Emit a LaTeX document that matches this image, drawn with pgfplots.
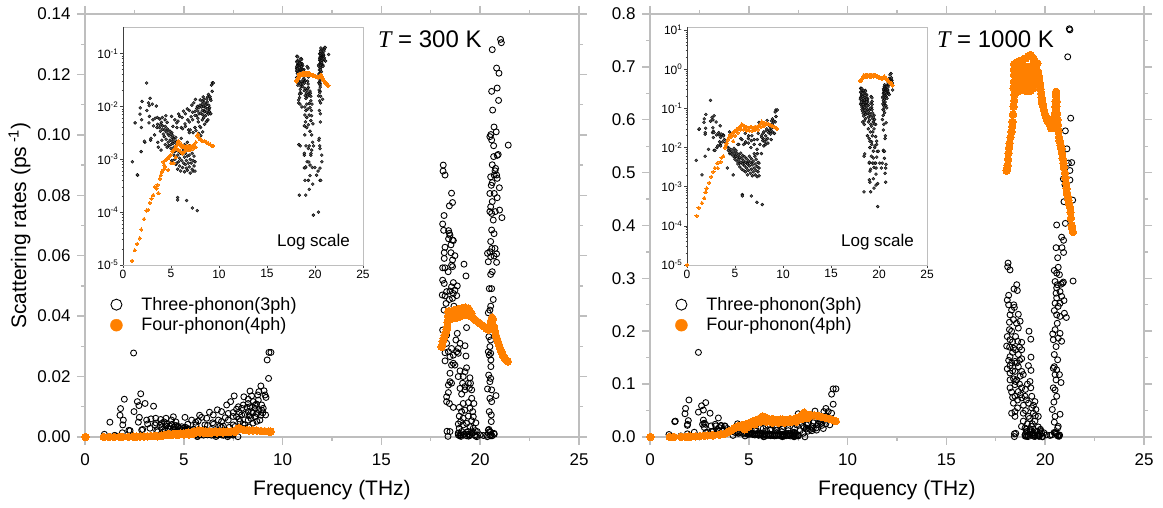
\documentclass[border=0pt]{standalone}
\usepackage{pgfplots}
\usepackage{pgfplotstable}
\usepackage{fontspec}
\pgfplotsset{compat=1.18}
\setmainfont{Liberation Sans}
\newfontfamily\tfont{Liberation Serif}
\definecolor{spine}{RGB}{190,190,190}
\definecolor{ora}{RGB}{255,128,0}
\pgfplotstableread[row sep=\\]{x y\\
21.03 .1316\\21.07 .1305\\20.61 .1282\\20.83 .1221\\20.95 .1204\\20.86 .1155\\20.58 .1144\\20.93 .1114\\20.63 .1082\\20.70 .1026\\20.81 .1010\\20.54 .1001\\20.49 .0994\\20.58 .0983\\20.68 .0964\\21.42 .0966\\20.91 .0935\\20.86 .0932\\20.68 .0928\\20.61 .0901\\20.78 .0889\\20.75 .0881\\20.83 .0867\\20.71 .0867\\20.53 .0861\\20.86 .0856\\20.61 .0842\\20.56 .0833\\20.97 .0825\\20.49 .0806\\20.71 .0806\\20.86 .0792\\20.61 .0779\\20.53 .0762\\20.98 .0751\\20.76 .0746\\20.49 .0746\\20.58 .0740\\21.10 .0726\\20.66 .0718\\20.58 .0685\\20.70 .0673\\20.53 .0647\\20.59 .0624\\20.75 .0624\\20.49 .0613\\20.37 .0608\\20.83 .0606\\20.70 .0599\\20.53 .0597\\20.41 .0580\\20.83 .0578\\20.61 .0547\\20.53 .0538\\20.46 .0491\\20.58 .0491\\20.66 .0455\\20.53 .0433\\20.49 .0420\\20.41 .0411\\20.49 .0360\\20.44 .0332\\20.53 .0321\\20.49 .0299\\20.41 .0282\\20.53 .0277\\20.46 .0271\\20.54 .0255\\20.54 .0233\\20.43 .0205\\20.53 .0194\\20.49 .0183\\20.37 .0159\\20.58 .0156\\20.80 .0137\\20.49 .0128\\20.58 .0117\\20.46 .0084\\20.56 .0073\\20.56 .0051\\20.41 .0023\\20.49 .0018\\20.71 .0009\\20.53 .0004\\20.36 .0001\\
18.13 .0900\\18.12 .0880\\18.22 .0867\\18.55 .0807\\18.60 .0776\\18.44 .0765\\18.17 .0733\\18.10 .0705\\18.15 .0684\\18.40 .0683\\18.44 .0674\\18.47 .0668\\18.40 .0656\\18.60 .0652\\18.64 .0650\\18.52 .0636\\18.22 .0628\\18.18 .0610\\18.52 .0610\\18.72 .0600\\18.18 .0591\\18.60 .0586\\18.55 .0569\\18.22 .0560\\18.10 .0560\\18.60 .0564\\19.18 .0572\\19.28 .0533\\18.38 .0547\\18.10 .0519\\18.18 .0508\\18.64 .0511\\18.55 .0497\\18.84 .0500\\18.30 .0481\\18.47 .0483\\18.72 .0486\\18.64 .0475\\18.08 .0470\\18.22 .0467\\18.81 .0468\\18.44 .0455\\18.60 .0459\\18.27 .0442\\18.67 .0433\\18.17 .0420\\18.10 .0354\\
19.31 .0362\\18.84 .0343\\18.30 .0337\\18.77 .0321\\18.98 .0310\\18.30 .0310\\19.23 .0302\\18.89 .0293\\18.55 .0293\\18.39 .0282\\18.81 .0282\\18.22 .0279\\18.64 .0271\\18.89 .0277\\18.47 .0266\\19.28 .0268\\18.22 .0252\\18.64 .0244\\18.55 .0238\\18.72 .0238\\18.47 .0211\\19.31 .0229\\18.98 .0219\\19.23 .0216\\18.89 .0200\\19.14 .0200\\19.48 .0196\\18.47 .0183\\18.55 .0178\\18.39 .0172\\19.11 .0178\\19.40 .0178\\19.51 .0178\\19.23 .0167\\19.45 .0161\\18.98 .0161\\19.23 .0156\\18.39 .0147\\19.57 .0156\\19.06 .0142\\18.30 .0133\\18.30 .0117\\19.57 .0128\\18.44 .0111\\19.40 .0114\\19.14 .0111\\19.68 .0111\\18.64 .0098\\18.94 .0098\\19.48 .0095\\19.23 .0089\\19.06 .0084\\19.62 .0084\\18.94 .0069\\19.40 .0069\\19.65 .0067\\19.14 .0062\\19.01 .0051\\19.57 .0054\\19.31 .0045\\19.78 .0047\\18.89 .0043\\19.14 .0040\\19.48 .0034\\18.94 .0029\\19.65 .0029\\18.47 .0018\\19.85 .0018\\19.06 .0018\\19.40 .0018\\18.89 .0012\\19.18 .0009\\19.57 .0012\\19.01 .0007\\19.73 .0007\\19.99 .0007\\20.16 .0005\\20.32 .0006\\
19.83 .000088\\18.37 .00021\\19.03 .00021\\19.41 .00027\\19.76 .00034\\18.96 .00040\\19.31 .00040\\20.60 .00040\\19.48 .00049\\18.89 .00069\\19.03 .00072\\19.48 .00078\\20.52 .00068\\19.37 .00089\\20.70 .0012\\18.89 .0013\\19.58 .0013\\20.52 .0016\\19.31 .0016\\19.66 .0015\\18.32 .0019\\19.75 .0021\\20.44 .0025\\
2.46 .0278\\9.31 .0280\\9.41 .0280\\9.22 .0255\\9.29 .0194\\8.90 .0169\\8.35 .0152\\9.06 .0153\\8.80 .0150\\8.74 .0139\\2.82 .0143\\7.55 .0136\\8.04 .0133\\9.11 .0139\\9.16 .0131\\8.43 .0136\\1.99 .0125\\2.65 .0117\\3.04 .0111\\2.73 .0104\\3.47 .0102\\7.37 .0117\\7.17 .0106\\8.26 .0125\\8.77 .0122\\8.52 .0117\\8.26 .0111\\8.68 .0109\\8.94 .0106\\8.01 .0106\\7.76 .0100\\8.35 .0100\\8.60 .0095\\9.02 .0095\\7.67 .0092\\7.93 .0095\\1.80 .0094\\2.48 .0084\\1.77 .0072\\2.75 .0065\\1.94 .0056\\2.70 .0049\\1.26 .0049\\1.91 .0040\\2.28 .0021\\1.89 .0014\\1.52 .0005\\.98 .0009\\1.49 .00051\\
3.12 .0056\\3.34 .0060\\3.58 .0062\\3.83 .0058\\3.17 .0043\\3.54 .0040\\3.88 .0045\\3.29 .0029\\2.87 .0023\\3.63 .0021\\4.13 .0043\\4.38 .0056\\4.47 .0067\\4.30 .0036\\4.69 .0036\\5.06 .0065\\5.09 .0032\\5.73 .0053\\5.62 .0040\\6.16 .0062\\6.07 .0040\\6.49 .0073\\6.46 .0047\\6.91 .0084\\6.75 .0056\\6.91 .0051\\6.83 .0036\\7.25 .0078\\7.50 .0081\\7.25 .0056\\7.67 .0067\\7.93 .0073\\7.84 .0051\\8.26 .0056\\8.09 .0040\\8.43 .0084\\8.60 .0067\\8.85 .0056\\9.14 .0073\\8.26 .0084\\8.94 .0089\\7.50 .0040\\6.91 .0032\\6.07 .0025\\4.05 .0023\\4.72 .0018\\5.23 .0025\\
2.22 .0022\\2.92 .0025\\3.68 .0017\\3.96 .0015\\5.69 .00019\\5.69 .00017\\6.63 .000166\\7.22 .00012\\7.74 .000107\\
3.6 .0046\\3.8 .0040\\3.9 .0034\\4.0 .0050\\4.1 .0037\\4.2 .0030\\4.3 .0027\\4.4 .0042\\4.5 .0033\\4.5 .0024\\4.6 .0038\\4.7 .0030\\4.7 .0021\\4.8 .0028\\4.9 .0034\\4.9 .0023\\5.0 .0030\\5.0 .0019\\5.1 .0026\\5.1 .0022\\5.2 .0020\\5.2 .0028\\5.3 .0017\\5.3 .0024\\5.4 .0021\\5.5 .0018\\5.5 .0026\\5.6 .0015\\5.6 .0022\\5.7 .0019\\5.4 .0014\\5.0 .0016\\4.8 .0018\\4.6 .0017\\4.4 .0019\\
5.1 .00095\\5.3 .0012\\5.4 .0010\\5.5 .0008\\5.6 .00085\\5.7 .0012\\5.7 .00065\\5.8 .0014\\5.8 .0009\\5.9 .00105\\5.9 .00075\\6.0 .0013\\6.0 .0006\\6.1 .00095\\6.1 .0017\\6.2 .00125\\6.2 .0007\\6.3 .00085\\6.3 .0015\\6.4 .0011\\6.4 .00058\\6.5 .0013\\6.5 .0008\\6.6 .00095\\6.6 .00068\\6.7 .00115\\6.7 .00062\\6.8 .0015\\6.8 .00085\\6.9 .0012\\6.9 .00072\\7.0 .001\\7.0 .00055\\7.1 .00085\\7.2 .0013\\7.2 .00065\\7.3 .00095\\7.3 .0006\\7.4 .00115\\7.4 .00075\\7.5 .0009\\7.5 .0006\\6.4 .0019\\6.7 .0021\\6.9 .0018\\7.2 .0017\\
5.6 .0049\\5.9 .0065\\6.2 .0038\\6.5 .0042\\7.0 .0036\\7.3 .0032\\7.6 .0035\\7.9 .0031\\8.0 .0042\\8.1 .0028\\8.3 .0033\\8.5 .0046\\8.7 .0052\\8.4 .0061\\7.8 .0060\\
4.1 .0062\\4.6 .0050\\5.2 .0042\\5.4 .0056\\5.8 .0072\\6.3 .0082\\6.7 .0090\\7.1 .0064\\7.5 .0068\\7.8 .0082\\8.1 .0075\\8.2 .0098\\8.3 .0070\\8.5 .0080\\8.6 .0105\\8.7 .0078\\8.8 .0090\\8.9 .0072\\9.0 .0080\\
}\tA
\pgfplotstableread[row sep=\\]{x y\\
0.02 .000001\\0.95 .000012\\1.23 .000019\\1.47 .000025\\1.75 .000032\\1.9 .000047\\2.2 .000074\\2.45 .000107\\2.62 .00011\\2.8 .00015\\2.98 .00018\\3.15 .00021\\3.32 .00030\\3.5 .00028\\3.68 .00023\\3.6 .00033\\3.85 .00043\\3.95 .00050\\4.05 .00058\\4.2 .00063\\4.2 .0009\\4.3 .00078\\4.4 .00072\\4.45 .00098\\4.55 .0010\\4.7 .00063\\4.7 .00105\\4.85 .00115\\5.0 .0012\\5.0 .00085\\5.15 .0014\\5.25 .00085\\5.25 .0015\\5.4 .0016\\5.5 .0011\\5.55 .0018\\5.7 .0021\\5.8 .0022\\5.9 .0020\\6.0 .0018\\6.1 .0019\\6.2 .0017\\6.3 .0018\\6.5 .0016\\6.6 .0018\\6.8 .0018\\6.9 .0016\\7.0 .0018\\7.2 .0018\\7.4 .0019\\7.6 .0021\\7.75 .0028\\7.8 .0030\\7.85 .0026\\8.0 .0024\\8.2 .0023\\8.3 .0022\\8.5 .0022\\8.7 .0021\\8.9 .0020\\9.1 .0019\\9.3 .0018\\9.4 .0018\\
5.6 .0016\\5.8 .0015\\6.0 .0014\\6.2 .0013\\6.4 .0014\\6.7 .0015\\7.0 .0015\\7.3 .0016\\7.6 .0017\\
18.05 .0298\\18.08 .0305\\18.1 .0315\\18.15 .0325\\18.2 .0335\\18.25 .0345\\18.3 .0355\\18.33 .0365\\18.35 .0380\\18.37 .0400\\18.38 .0415\\18.45 .0415\\18.5 .0390\\18.55 .0415\\18.6 .0395\\18.65 .0418\\18.7 .0395\\18.75 .042\\18.8 .0395\\18.85 .0422\\18.9 .0397\\18.95 .0423\\19.0 .0400\\19.05 .0425\\19.1 .0402\\19.15 .0427\\19.2 .0405\\19.25 .0428\\19.3 .0425\\19.35 .0405\\19.4 .0425\\19.45 .0420\\19.5 .0400\\19.55 .0410\\19.6 .0398\\19.7 .0390\\19.8 .0385\\19.9 .0380\\20.0 .0375\\20.1 .0370\\20.2 .0365\\20.3 .0360\\20.4 .0355\\20.45 .0360\\20.5 .0370\\20.55 .0385\\20.6 .0395\\20.65 .0390\\20.7 .0365\\20.75 .0350\\20.8 .0335\\20.85 .0325\\20.9 .0315\\20.95 .0305\\21.0 .0295\\21.05 .0285\\21.1 .0280\\21.15 .0270\\21.2 .0265\\21.25 .0260\\21.3 .0255\\21.35 .0252\\21.4 .0250\\
}\tB
\pgfplotstableread[row sep=\\]{x y\\
21.22 .772\\21.25 .770\\21.14 .719\\21.29 .603\\21.02 .579\\21.10 .545\\21.34 .519\\21.17 .518\\21.25 .504\\20.92 .488\\21.25 .486\\21.0 .477\\21.39 .448\\20.95 .445\\21.09 .464\\20.58 .401\\21.02 .404\\20.83 .378\\20.93 .372\\20.55 .358\\20.85 .358\\20.93 .349\\20.63 .339\\21.41 .295\\20.66 .321\\20.46 .315\\20.58 .310\\20.72 .307\\20.92 .293\\20.80 .289\\20.50 .294\\20.61 .288\\20.58 .282\\20.88 .291\\20.55 .272\\20.75 .275\\20.83 .266\\20.95 .258\\20.58 .263\\20.50 .253\\20.75 .253\\20.66 .247\\20.46 .239\\20.97 .234\\20.58 .231\\21.07 .226\\20.75 .228\\20.61 .215\\20.50 .203\\20.75 .196\\20.38 .195\\20.66 .187\\20.83 .181\\20.41 .184\\20.55 .171\\20.46 .156\\20.63 .146\\20.46 .133\\20.58 .127\\20.41 .130\\20.50 .118\\20.72 .118\\20.80 .103\\20.41 .093\\20.55 .108\\20.50 .089\\20.58 .077\\20.44 .066\\20.36 .052\\20.75 .043\\20.50 .039\\20.46 .028\\20.66 .020\\20.50 .008\\20.70 .003\\20.33 .004\\
18.12 .329\\18.10 .322\\18.22 .316\\18.56 .288\\18.42 .280\\18.59 .277\\18.15 .268\\18.08 .259\\18.15 .250\\18.41 .250\\18.44 .245\\18.64 .232\\18.22 .231\\18.39 .222\\18.73 .219\\18.19 .217\\18.19 .203\\18.64 .206\\18.08 .190\\19.18 .200\\19.27 .185\\18.61 .181\\18.81 .179\\18.22 .184\\18.39 .168\\18.05 .172\\18.81 .165\\18.22 .152\\18.64 .156\\19.28 .151\\18.81 .148\\18.08 .129\\18.22 .135\\18.47 .143\\18.64 .133\\19.15 .135\\19.28 .126\\18.22 .121\\18.47 .124\\18.81 .124\\18.89 .118\\18.22 .108\\18.56 .108\\18.73 .115\\19.23 .105\\18.22 .093\\18.47 .099\\19.27 .093\\18.81 .093\\18.64 .086\\18.47 .077\\18.98 .077\\18.81 .074\\19.32 .077\\18.39 .064\\19.15 .064\\19.48 .067\\18.30 .045\\18.47 .048\\18.89 .045\\19.53 .052\\19.32 .055\\19.65 .039\\19.15 .039\\18.47 .039\\18.89 .030\\19.48 .030\\18.98 .017\\19.65 .019\\19.23 .014\\19.82 .008\\18.44 .006\\18.98 .004\\19.32 .004\\19.48 .004\\19.65 .004\\20.07 .004\\20.24 .003\\
18.3 .200\\18.5 .190\\18.35 .160\\18.55 .140\\18.4 .110\\18.7 .100\\18.6 .070\\18.9 .060\\19.0 .050\\19.1 .025\\19.3 .020\\19.4 .045\\18.8 .020\\18.7 .170\\18.3 .085\\18.6 .055\\18.2 .170\\18.3 .140\\18.35 .125\\18.5 .165\\18.3 .240\\18.55 .215\\18.15 .145\\18.7 .145\\18.35 .180\\18.5 .105\\18.75 .080\\18.35 .075\\19.0 .090\\19.1 .100\\19.05 .070\\19.4 .060\\19.2 .035\\19.5 .040\\19.35 .025\\19.05 .010\\19.75 .012\\19.55 .010\\19.2 .006\\
19.86 .00031\\18.44 .00074\\19.13 .00074\\19.48 .00092\\19.86 .0012\\19.69 .0011\\20.70 .0013\\19.06 .0013\\19.41 .0016\\18.99 .0015\\19.69 .0021\\19.06 .0025\\19.48 .0031\\20.63 .0022\\19.13 .0028\\19.69 .0030\\20.73 .0037\\18.99 .0042\\19.41 .0054\\19.76 .0057\\20.56 .0053\\18.51 .0069\\19.93 .0080\\20.45 .0085\\20.56 .0080\\19.06 .010\\19.41 .0081\\19.58 .011\\19.24 .012\\19.76 .0145\\19.06 .0145\\20.63 .017\\
2.45 .160\\1.97 .070\\1.80 .054\\1.77 .044\\2.82 .065\\2.61 .059\\2.70 .051\\2.45 .047\\3.04 .045\\3.46 .036\\1.94 .031\\1.25 .029\\2.70 .032\\1.89 .022\\2.66 .024\\3.09 .021\\3.34 .021\\3.59 .021\\3.79 .021\\2.75 .018\\2.24 .009\\1.89 .006\\.96 .0047\\1.56 .002\\2.83 .0085\\3.12 .010\\3.46 .012\\
9.27 .091\\9.41 .091\\9.19 .081\\9.27 .062\\8.90 .054\\8.35 .049\\9.02 .048\\8.80 .048\\9.19 .045\\7.50 .044\\4.43 .025\\4.46 .007\\
4.81 .002\\5.06 .006\\5.48 .004\\5.82 .004\\6.07 .013\\6.41 .013\\6.32 .004\\6.66 .010\\6.75 .004\\7.0 .016\\7.33 .016\\7.08 .006\\7.50 .004\\7.75 .007\\7.92 .023\\8.26 .027\\8.43 .013\\8.77 .016\\9.10 .023\\7.92 .017\\7.33 .007\\7.75 .020\\8.26 .016\\8.68 .026\\7.42 .023\\6.75 .020\\6.41 .020\\6.07 .023\\5.73 .016\\5.39 .012\\
4.2 .003\\5.76 .00063\\5.76 .00058\\6.7 .00058\\7.29 .0004\\7.84 .00035\\
4.2 .0105\\4.3 .0085\\4.4 .0095\\4.5 .0075\\4.6 .0088\\4.7 .0065\\4.8 .0078\\4.9 .0058\\4.9 .0095\\5.0 .0070\\5.0 .0050\\5.1 .0085\\5.1 .0060\\5.2 .0045\\5.2 .0072\\5.3 .0055\\5.3 .0038\\5.4 .0065\\5.4 .0048\\5.5 .0032\\5.5 .0056\\5.6 .0042\\5.6 .0072\\5.7 .0052\\5.7 .0028\\5.8 .0038\\5.8 .0062\\5.9 .0046\\5.9 .0026\\6.0 .0034\\6.0 .0058\\6.1 .0042\\6.1 .0024\\6.2 .0052\\6.2 .0030\\6.3 .0038\\6.3 .0020\\6.4 .0046\\6.4 .0026\\6.5 .0034\\6.5 .0060\\6.6 .0022\\6.6 .0042\\6.7 .0028\\6.7 .0052\\6.8 .0036\\6.8 .0019\\6.9 .0024\\6.9 .0045\\7.0 .0030\\7.0 .0070\\7.1 .0038\\7.1 .0020\\7.2 .0026\\7.2 .0050\\7.3 .0033\\7.3 .0018\\7.4 .0024\\7.4 .0042\\7.5 .0030\\7.5 .0019\\
7.6 .012\\7.8 .018\\8.0 .025\\8.1 .014\\8.2 .020\\8.3 .030\\8.4 .017\\8.5 .024\\8.6 .028\\8.6 .035\\8.7 .022\\8.8 .031\\8.9 .040\\8.9 .025\\8.0 .011\\7.9 .015\\8.2 .012\\7.3 .009\\7.0 .012\\6.7 .015\\6.4 .017\\6.1 .014\\5.9 .012\\5.6 .017\\5.3 .012\\
3.3 .024\\3.5 .018\\3.6 .022\\3.7 .014\\3.8 .020\\3.4 .014\\3.2 .011\\3.9 .016\\3.5 .011\\4.0 .013\\2.91 .0085\\1.28 .030\\1.9 .024\\2.74 .026\\2.81 .024\\
}\tC
\pgfplotstableread[row sep=\\]{x y\\
0.02 .00001\\1.0 .00018\\1.21 .00029\\1.56 .00038\\1.8 .00051\\1.94 .00072\\2.05 .00091\\2.32 .00126\\2.53 .0018\\2.74 .0024\\2.9 .0030\\3.2 .0030\\3.16 .0040\\3.5 .0043\\3.6 .0055\\3.78 .0060\\3.95 .010\\4.05 .0115\\4.13 .013\\4.25 .016\\4.35 .018\\4.5 .021\\4.6 .019\\4.7 .023\\4.8 .0145\\4.85 .024\\5.0 .020\\5.0 .026\\5.17 .029\\5.3 .024\\5.35 .031\\5.5 .034\\5.6 .036\\5.7 .039\\5.8 .038\\5.9 .036\\6.0 .034\\6.2 .034\\6.4 .032\\6.6 .033\\6.73 .033\\6.9 .032\\7.1 .034\\7.3 .034\\7.5 .037\\7.7 .042\\7.8 .046\\7.9 .043\\8.1 .042\\8.3 .041\\8.5 .040\\8.7 .038\\8.9 .036\\9.1 .034\\9.3 .031\\9.4 .030\\
5.6 .029\\5.9 .029\\6.2 .027\\6.5 .027\\6.8 .027\\7.1 .028\\7.4 .029\\7.7 .034\\8.0 .036\\
18.05 .5036\\18.07 .508\\18.1 .514\\18.12 .525\\18.15 .537\\18.17 .547\\18.2 .556\\18.25 .567\\18.3 .577\\18.33 .587\\18.35 .596\\18.37 .61\\18.4 .625\\18.43 .636\\18.45 .647\\18.4 .660\\18.42 .685\\18.42 .705\\18.42 .672\\18.42 .695\\
18.55 .655\\18.55 .670\\18.55 .685\\18.55 .700\\18.55 .708\\18.7 .655\\18.7 .670\\18.7 .685\\18.7 .700\\18.7 .711\\18.85 .660\\18.85 .675\\18.85 .690\\18.85 .705\\18.85 .713\\19.0 .655\\19.0 .670\\19.0 .685\\19.0 .700\\19.0 .716\\19.15 .655\\19.15 .670\\19.15 .685\\19.15 .700\\19.15 .720\\19.25 .655\\19.25 .670\\19.25 .685\\19.25 .700\\19.25 .7225\\19.4 .660\\19.4 .675\\19.4 .690\\19.4 .705\\19.4 .716\\19.55 .672\\19.55 .687\\19.55 .702\\19.6 .707\\
19.65 .690\\19.68 .682\\19.7 .675\\19.72 .67\\19.75 .666\\19.77 .658\\19.8 .650\\19.82 .642\\19.85 .635\\19.87 .63\\19.9 .625\\19.95 .617\\20.0 .610\\20.05 .605\\20.1 .600\\20.12 .598\\20.15 .596\\20.2 .593\\20.25 .590\\20.3 .584\\20.35 .587\\20.4 .592\\20.42 .596\\20.45 .600\\20.47 .606\\20.5 .612\\20.52 .625\\20.53 .635\\20.54 .645\\20.55 .653\\20.56 .645\\20.57 .625\\20.58 .635\\20.6 .612\\20.62 .60\\20.65 .590\\20.67 .578\\20.7 .567\\20.73 .56\\20.78 .552\\20.82 .545\\20.85 .537\\20.88 .527\\20.92 .518\\20.95 .51\\21.0 .499\\21.02 .49\\21.05 .480\\21.08 .47\\21.1 .461\\21.14 .455\\21.18 .448\\21.2 .442\\21.25 .435\\21.28 .425\\21.3 .414\\21.34 .40\\21.37 .395\\21.4 .388\\
}\tD
\pgfplotsset{
 mainax/.style={scale only axis,width=494pt,height=423pt,xmin=0,xmax=25,ymin=0,
  axis line style={spine,line width=2pt},
  tick style={draw=spine,line width=1.5pt},
  major tick style={draw=spine,line width=1.5pt},
  minor tick style={draw=spine,line width=1.2pt},
  tick align=outside,major tick length=8pt,minor tick length=4pt,
  xtick={0,5,10,15,20,25},xticklabels={0,5,10,15,20,25},minor x tick num=1,minor y tick num=1,
  tick label style={font=\fontsize{17}{20}\selectfont,text=black},
  label style={font=\fontsize{21}{25}\selectfont,text=black},
  xlabel={Frequency (THz)},
  xticklabel style={yshift=-5pt},
  yticklabel style={xshift=-3pt},
  xlabel style={yshift=-8pt},
  legend style={draw=none,fill=none,font=\fontsize{18}{21}\selectfont,row sep=2pt},
  legend cell align=left,
 },
 inax/.style={scale only axis,width=240pt,height=238pt,xmin=0,xmax=25,
  axis line style={spine,line width=0.8pt},
  tick style={draw=black!75,line width=0.6pt},
  tick align=outside,major tick length=3pt,minor tick length=1.5pt,
  xtick={0,5,10,15,20,25},xticklabels={0,5,10,15,20,25},xtick pos=bottom,ytick pos=left,
  tick label style={font=\fontsize{12}{14}\selectfont,text=black,inner sep=1.5pt},
 },
 threeb/.style={only marks,mark=o,mark size=3pt,mark options={draw=black,line width=0.9pt,fill=none}},
 fourb/.style={only marks,mark=*,mark size=3.7pt,mark options={draw=ora,fill=ora,line width=0pt}},
 threes/.style={only marks,mark=*,mark size=1.5pt,mark options={draw=black,fill=black!65,line width=0.4pt}},
 fours/.style={only marks,mark=*,mark size=1.7pt,mark options={draw=ora,fill=ora,line width=0pt}},
}
\begin{document}
\begin{tikzpicture}
\path[use as bounding box] (0pt,0pt) rectangle (1163pt,508pt);
% left main
\begin{axis}[mainax,at={(85pt,71pt)},anchor=south west,ymax=0.14,
  ytick={0,0.02,0.04,0.06,0.08,0.10,0.12,0.14},
  yticklabels={0.00,0.02,0.04,0.06,0.08,0.10,0.12,0.14},
  ylabel={Scattering rates (ps\,\textsuperscript{-1})},
  ylabel style={yshift=0pt},
  legend style={at={(rel axis cs:0.045,0.340)},anchor=north west}]
\addlegendimage{only marks,mark=o,mark size=5.5pt,mark options={draw=black,line width=0.9pt}}
\addlegendentry{\hspace{17pt}Three-phonon(3ph)}
\addlegendimage{only marks,mark=*,mark size=6pt,mark options={draw=ora,fill=ora}}
\addlegendentry{\hspace{17pt}Four-phonon(4ph)}
\addplot[threeb,forget plot] table[x=x,y=y] {\tA};
\addplot[fourb,forget plot] table[x=x,y=y] {\tB};
\node[anchor=base west,font=\fontsize{24}{28}\selectfont,inner sep=0pt] at (rel axis cs:0.593,0.9205) {{\tfont\itshape T} = 300 K};
\end{axis}
% left inset
\begin{axis}[inax,ymode=log,at={(123pt,243pt)},anchor=south west,ymin=1e-5,ymax=0.32,
  ytick={1e-5,1e-4,1e-3,1e-2,1e-1},
  yticklabels={10\textsuperscript{-5},10\textsuperscript{-4},10\textsuperscript{-3},10\textsuperscript{-2},10\textsuperscript{-1}}]
\addplot[threes] table[x=x,y=y] {\tA};
\addplot[fours] table[x=x,y=y] {\tB};
\draw[black!75,line width=0.6pt] (rel axis cs:0,1)--(rel axis cs:0,0)--(rel axis cs:1,0);
\node[font=\fontsize{17}{20}\selectfont] at (rel axis cs:0.794,0.095) {Log scale};
\end{axis}
% right main
\begin{axis}[mainax,at={(650pt,71pt)},anchor=south west,ymax=0.8,
  ytick={0,0.1,0.2,0.3,0.4,0.5,0.6,0.7,0.8},
  yticklabels={0.0,0.1,0.2,0.3,0.4,0.5,0.6,0.7,0.8},
  legend style={at={(rel axis cs:0.045,0.340)},anchor=north west}]
\addlegendimage{only marks,mark=o,mark size=5.5pt,mark options={draw=black,line width=0.9pt}}
\addlegendentry{\hspace{17pt}Three-phonon(3ph)}
\addlegendimage{only marks,mark=*,mark size=6pt,mark options={draw=ora,fill=ora}}
\addlegendentry{\hspace{17pt}Four-phonon(4ph)}
\addplot[threeb,forget plot] table[x=x,y=y] {\tC};
\addplot[fourb,forget plot] table[x=x,y=y] {\tD};
\node[anchor=base west,font=\fontsize{24}{28}\selectfont,inner sep=0pt] at (rel axis cs:0.581,0.9205) {{\tfont\itshape T} = 1000 K};
\end{axis}
% right inset
\begin{axis}[inax,ymode=log,at={(687pt,243pt)},anchor=south west,ymin=1e-5,ymax=12,
  ytick={1e-5,1e-4,1e-3,1e-2,1e-1,1,10},
  yticklabels={10\textsuperscript{-5},10\textsuperscript{-4},10\textsuperscript{-3},10\textsuperscript{-2},10\textsuperscript{-1},10\textsuperscript{0},10\textsuperscript{1}}]
\addplot[threes] table[x=x,y=y] {\tC};
\addplot[fours] table[x=x,y=y] {\tD};
\draw[black!75,line width=0.6pt] (rel axis cs:0,1)--(rel axis cs:0,0)--(rel axis cs:1,0);
\node[font=\fontsize{17}{20}\selectfont] at (rel axis cs:0.794,0.095) {Log scale};
\end{axis}
\end{tikzpicture}
\end{document}
